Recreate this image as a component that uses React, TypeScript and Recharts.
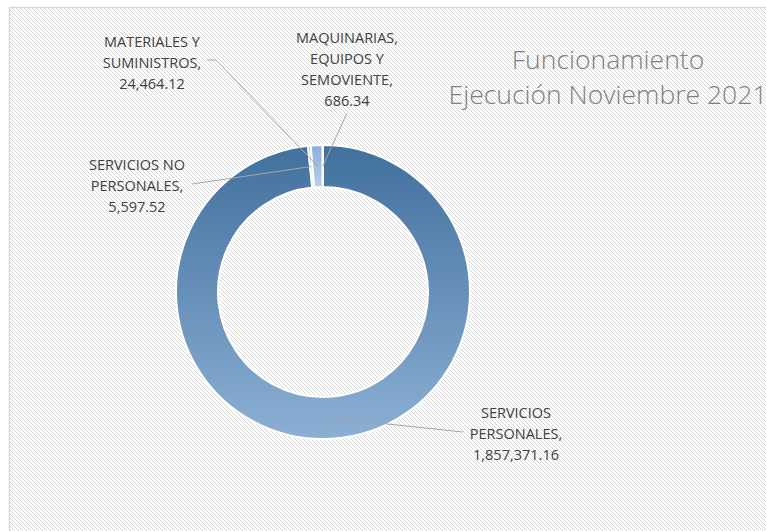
import React from 'react';
import { PieChart, Pie, Cell } from 'recharts';

const categories = [
  'SERVICIOS PERSONALES',
  'SERVICIOS NO PERSONALES',
  'MATERIALES Y SUMINISTROS',
  'MAQUINARIAS, EQUIPOS Y SEMOVIENTE',
];
const amounts = [1857371.16, 5597.52, 24464.12, 686.34];
const titleLines = ['Funcionamiento', 'Ejecución Noviembre 2021'];

const pieData = categories.map((name, i) => ({ name, value: amounts[i] }));

// where each data label sits, relative to the pie centre
const labelLayout = [
  { tx: 193, ty: 126, lx: 140, ly: 140, hook: 0 },
  { tx: -186, ty: -122, lx: -131, ly: -108, hook: 0 },
  { tx: -171, ty: -245, lx: -116, ly: -232, hook: 9 },
  { tx: 24, ty: -249, lx: 24, ly: -179, hook: 0 },
];

const fills = ['url(#ringGrad)', 'url(#smallGrad)', 'url(#smallGrad)', 'url(#smallGrad)'];

const CX = 323;
const CY = 292;
const RAD = Math.PI / 180;
const font = '"Open Sans", "DejaVu Sans", sans-serif';

const fmt = (v: number) =>
  v.toLocaleString('en-US', { minimumFractionDigits: 2, maximumFractionDigits: 2 });

// greedy wrap like Excel's label box
const wrap = (text: string, max: number) => {
  const out: string[] = [];
  let cur = '';
  text.split(' ').forEach((w) => {
    if (!cur) cur = w;
    else if ((cur + ' ' + w).length <= max) cur += ' ' + w;
    else {
      out.push(cur);
      cur = w;
    }
  });
  if (cur) out.push(cur);
  return out;
};

const renderLabel = (props: any) => {
  const { cx, cy, midAngle, innerRadius, outerRadius, index, name, value } = props;
  const pos = labelLayout[index];
  const r = (innerRadius + outerRadius) / 2;
  const ex = cx + r * Math.cos(-midAngle * RAD);
  const ey = cy + r * Math.sin(-midAngle * RAD);
  const sx = cx + pos.lx;
  const sy = cy + pos.ly;
  const pts = pos.hook ? `${sx},${sy} ${sx + pos.hook},${sy} ${ex},${ey}` : `${sx},${sy} ${ex},${ey}`;
  const lines = wrap(`${name}, ${fmt(value)}`, 13);
  return (
    <g key={`lbl-${index}`}>
      <polyline points={pts} fill="none" stroke="#a6a6a6" strokeWidth={1} />
      <text
        x={cx + pos.tx}
        y={cy + pos.ty}
        textAnchor="middle"
        fill="#404040"
        fontSize={14.5}
        fontFamily={font}
      >
        {lines.map((l, i) => (
          <tspan key={i} x={cx + pos.tx} dy={i === 0 ? 0 : 21}>
            {l}
          </tspan>
        ))}
      </text>
    </g>
  );
};

const App: React.FC = () => {
  return (
    <div style={{ position: 'absolute', left: 0, top: 0, width: 766, height: 531, overflow: 'hidden', background: '#fff' }}>
      <svg width={766} height={531} style={{ position: 'absolute', left: 0, top: 0 }}>
        <defs>
          <pattern id="hatch" patternUnits="userSpaceOnUse" width={4} height={4}>
            <rect width={4} height={4} fill="#ffffff" />
            <path d="M0,0 L4,4 M-1,3 L1,5 M3,-1 L5,1" stroke="#d6d6d6" strokeWidth={1} />
          </pattern>
          <linearGradient id="ringGrad" x1="0" y1="0" x2="0" y2="1">
            <stop offset="0%" stopColor="#41709d" />
            <stop offset="100%" stopColor="#8cb0d4" />
          </linearGradient>
          <linearGradient id="smallGrad" x1="0" y1="0" x2="0" y2="1">
            <stop offset="0%" stopColor="#88afdc" />
            <stop offset="100%" stopColor="#b8cfea" />
          </linearGradient>
        </defs>
        <rect x={9.5} y={7.5} width={800} height={600} fill="url(#hatch)" stroke="#d9d9d9" strokeWidth={1.5} />
        <text x={608} y={69} textAnchor="middle" fill="#7f7f7f" fontSize={26.5} fontFamily={font} fontWeight={300}>
          {titleLines[0]}
        </text>
        <text x={608} y={104} textAnchor="middle" fill="#7f7f7f" fontSize={26.5} fontFamily={font} fontWeight={300}>
          {titleLines[1]}
        </text>
      </svg>
      <div style={{ position: 'absolute', left: 0, top: 0 }}>
        <PieChart width={766} height={531} margin={{ top: 0, right: 0, bottom: 0, left: 0 }}>
          <Pie
            data={pieData}
            dataKey="value"
            nameKey="name"
            cx={CX}
            cy={CY}
            innerRadius={105}
            outerRadius={147}
            startAngle={90}
            endAngle={-270}
            stroke="#ffffff"
            strokeWidth={2}
            label={renderLabel}
            labelLine={false}
            isAnimationActive={false}
          >
            {pieData.map((d, i) => (
              <Cell key={d.name} fill={fills[i]} />
            ))}
          </Pie>
        </PieChart>
      </div>
    </div>
  );
};

export default App;
